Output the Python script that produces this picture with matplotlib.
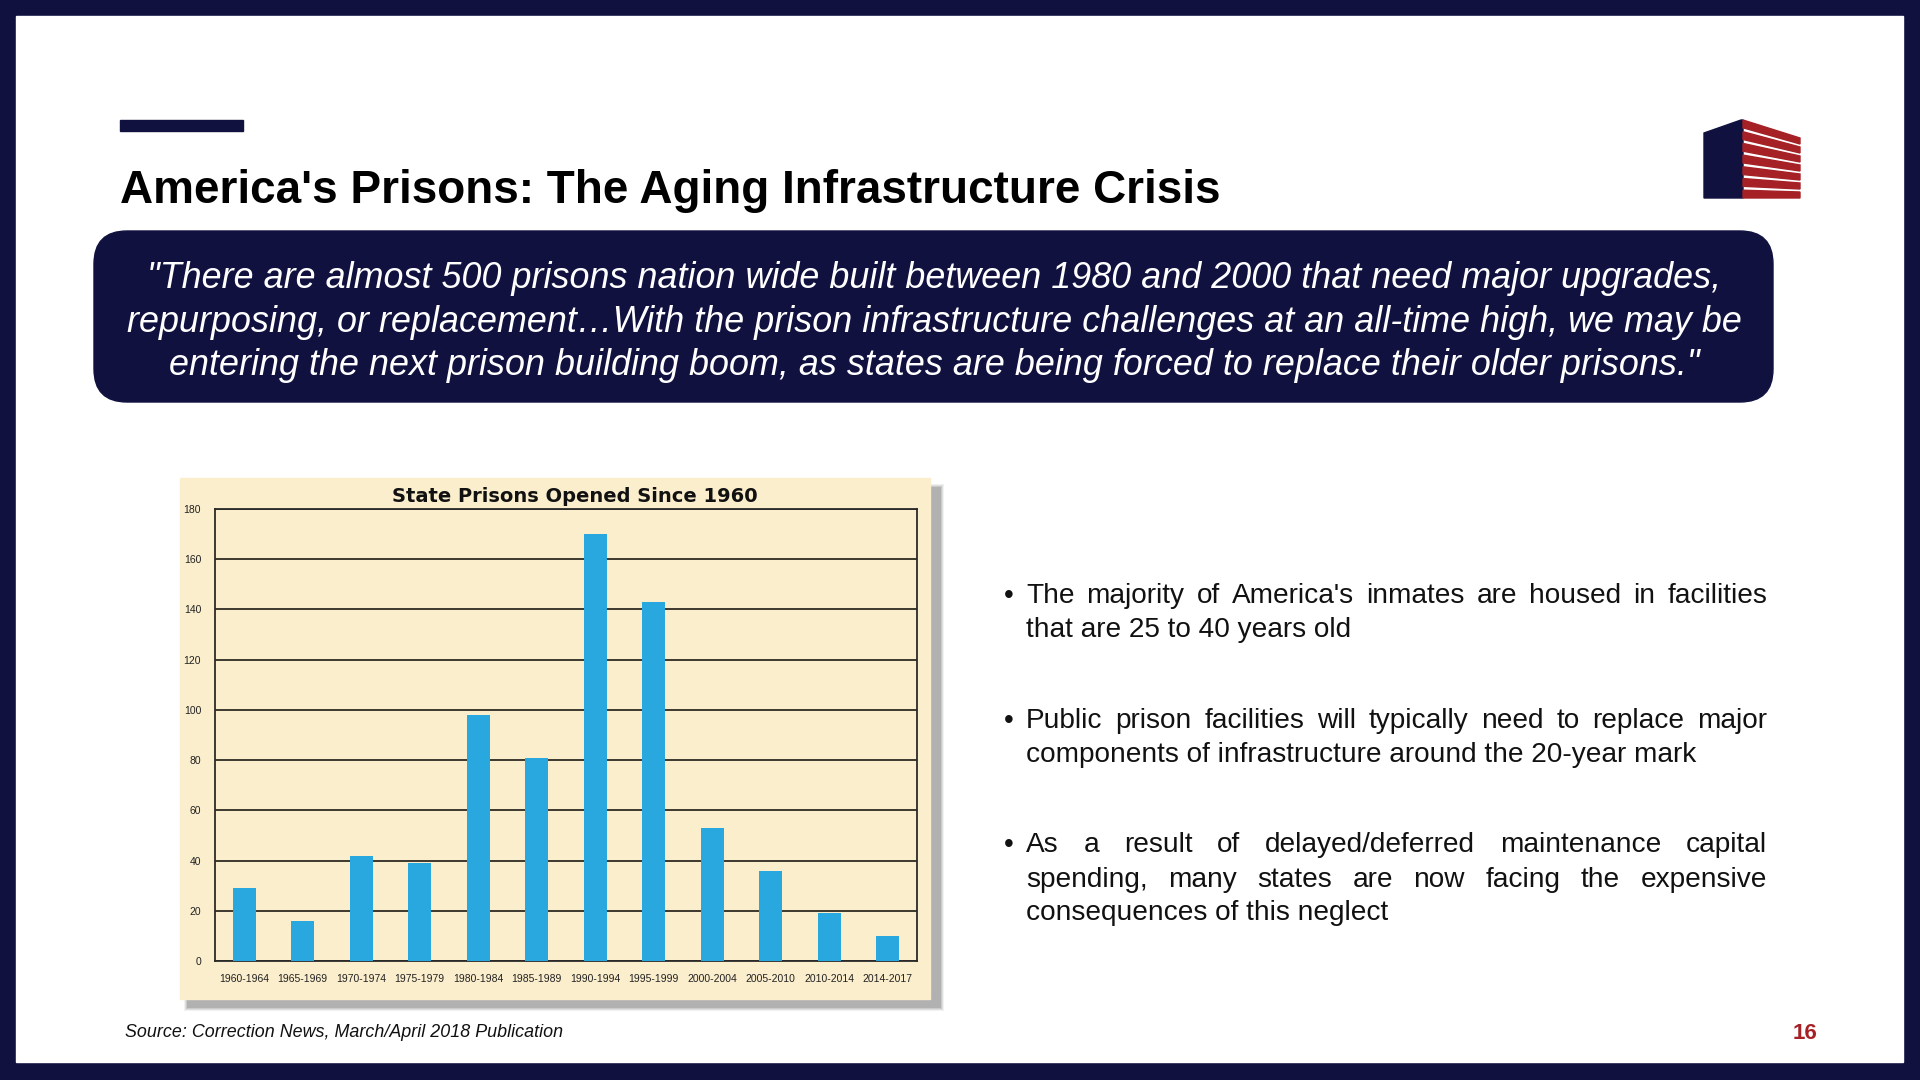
"""Slide: America's Prisons - the aging infrastructure crisis (state prisons opened since 1960)."""

import matplotlib.pyplot as plt
from matplotlib.patches import Rectangle, FancyBboxPatch, Polygon

navy = "#10113F"
bar_color = "#29A8E0"
beige = "#FBEECD"
red = "#A52126"
plt.rcParams["font.family"] = ["Liberation Sans", "DejaVu Sans"]

periods = ["1960-1964", "1965-1969", "1970-1974", "1975-1979", "1980-1984", "1985-1989",
           "1990-1994", "1995-1999", "2000-2004", "2005-2010", "2010-2014", "2014-2017"]
prisons_opened = [29, 16, 42, 39, 98, 81, 170, 143, 53, 36, 19, 10]
y_ticks = [0, 20, 40, 60, 80, 100, 120, 140, 160, 180]

title = "America's Prisons: The Aging Infrastructure Crisis"
chart_title = "State Prisons Opened Since 1960"
quote_lines = [
    "\"There are almost 500 prisons nation wide built between 1980 and 2000 that need major upgrades,",
    "repurposing, or replacement\u2026With the prison infrastructure challenges at an all-time high, we may be",
    "entering the next prison building boom, as states are being forced to replace their older prisons.\"",
]
bullets = [
    ["The majority of America's inmates are housed in facilities",
     "that are 25 to 40 years old"],
    ["Public prison facilities will typically need to replace major",
     "components of infrastructure around the 20-year mark"],
    ["As a result of delayed/deferred maintenance capital",
     "spending, many states are now facing the expensive",
     "consequences of this neglect"],
]
source = "Source: Correction News, March/April 2018 Publication"
page_number = "16"


fig = plt.figure(figsize=(19.2, 10.8), dpi=100)
fig.patch.set_facecolor(navy)
bg = fig.add_axes([0, 0, 1, 1])
bg.set_xlim(0, 1920)
bg.set_ylim(1080, 0)
bg.axis("off")

# white slide area inside the navy frame
bg.add_patch(Rectangle((16, 16), 1887, 1046, color="white", zorder=0))

# title with short bar above
bg.add_patch(Rectangle((120, 120), 123, 11, color=navy))
bg.text(120, 203, title, fontsize=33, fontweight="bold", color="black", va="baseline")

# logo
bg.add_patch(Polygon([(1704, 133), (1741, 120), (1743, 120), (1743, 198), (1704, 198)],
                     closed=True, color=navy))
units = 20
for k in range(7):
    a, b = 3 * k, 3 * k + 2
    lt, lb = 120 + a * 78 / units, 120 + b * 78 / units
    rt, rb = 138 + a * 60 / units, 138 + b * 60 / units
    bg.add_patch(Polygon([(1743, lt), (1800, rt), (1800, rb), (1743, lb)], closed=True, color=red))

# quote box
bg.add_patch(FancyBboxPatch((94 + 33, 231 + 33), 1679 - 66, 171 - 66,
                            boxstyle="round,pad=33", color=navy, zorder=1))
for i, line in enumerate(quote_lines):
    bg.text(934, 288 + i * 43.5, line, fontsize=25.8, style="italic", color="white",
            ha="center", va="baseline", zorder=2)

# chart card with shadow
for i, a in enumerate([0.10, 0.15, 0.2, 0.3]):
    grow = 4 - i
    bg.add_patch(Rectangle((188 - grow, 488 - grow), 752 + 2 * grow, 519 + 2 * grow,
                           color="#7a7a7a", alpha=a, lw=0, zorder=1))
bg.add_patch(Rectangle((180, 478), 750, 521, color=beige, zorder=2))
bg.text(575, 496, chart_title, fontsize=14, fontweight="bold", family="DejaVu Sans",
        ha="center", va="center", color="#111111", zorder=3)

ax = fig.add_axes([215 / 1920, (1080 - 961) / 1080, 702 / 1920, 452 / 1080])
ax.set_facecolor(beige)
ax.bar(range(len(periods)), prisons_opened, width=0.4, color=bar_color, zorder=3)
ax.set_xlim(-0.5, len(periods) - 0.5)
ax.set_ylim(0, 180)
ax.set_yticks(y_ticks, labels=[str(v) for v in y_ticks])
ax.set_xticks(range(len(periods)), labels=periods)
ax.yaxis.grid(True, color="#2f2a22", linewidth=1.3, zorder=1)
ax.set_axisbelow(True)
for s in ax.spines.values():
    s.set_color("#2a2a2a")
    s.set_linewidth(1.3)
ax.tick_params(length=0, labelsize=7.5, labelcolor="#222222")
ax.tick_params(axis="y", pad=10)
ax.tick_params(axis="x", pad=9)

# bullets, justified like the slide
renderer = fig.canvas.get_renderer()
x_left, x_right = 1026, 1767
baselines = [[603, 637], [728, 762], [852, 887, 920]]
for lines, ys in zip(bullets, baselines):
    bg.text(1004, ys[0], "\u2022", fontsize=20, va="baseline", color="#111111")
    for j, (line, y) in enumerate(zip(lines, ys)):
        if j == len(lines) - 1:
            bg.text(x_left, y, line, fontsize=20.2, va="baseline", color="#111111")
            continue
        words = line.split()
        items = [bg.text(0, y, w, fontsize=20.2, va="baseline", color="#111111") for w in words]
        widths = [t.get_window_extent(renderer).width for t in items]
        gap = (x_right - x_left - sum(widths)) / (len(words) - 1)
        x = x_left
        for t, w in zip(items, widths):
            t.set_x(x)
            x += w + gap

# footer
bg.text(125, 1037, source, fontsize=12.9, style="italic", color="#111111", va="baseline")
bg.text(1817, 1039, page_number, fontsize=16, fontweight="bold", color=red,
        ha="right", va="baseline")

plt.savefig("out.png", dpi=100, facecolor=navy)
plt.close(fig)
